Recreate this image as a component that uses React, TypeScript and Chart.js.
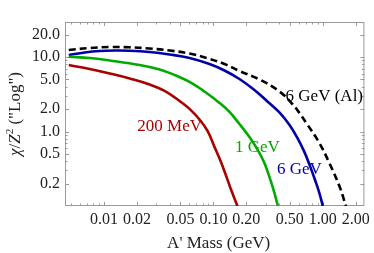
import React, { useEffect, useRef } from "react";
import { Chart, registerables } from "chart.js";

Chart.register(...registerables);

// A' mass (GeV) and chi/Z^2 values
const mass200MeV = [0.004764, 0.007404, 0.01127, 0.01716, 0.02612, 0.03579, 0.04906, 0.06053, 0.07468, 0.08835, 0.1023, 0.1161, 0.1317, 0.1463, 0.1659];
const chi200MeV = [7.81, 6.9, 6.01, 5.15, 4.28, 3.5, 2.57, 2.01, 1.45, 1.02, 0.622, 0.404, 0.246, 0.16, 0.1];

const mass1GeV = [0.004764, 0.007404, 0.01127, 0.02117, 0.03223, 0.04418, 0.06053, 0.0865, 0.1137, 0.1403, 0.173, 0.2135, 0.2526, 0.2926, 0.3319, 0.361, 0.3885];
const chi1GeV = [10.09, 9.7, 8.98, 7.81, 6.8, 5.74, 4.62, 3.29, 2.42, 1.83, 1.26, 0.846, 0.576, 0.379, 0.224, 0.15, 0.1];

const mass6GeV = [0.004764, 0.006667, 0.009137, 0.01252, 0.01716, 0.02612, 0.03977, 0.06053, 0.09213, 0.1263, 0.173, 0.2371, 0.3116, 0.401, 0.4947, 0.5854, 0.678, 0.7691, 0.8542, 0.9293, 1.0];
const chi6GeV = [10.64, 11.49, 12.03, 12.22, 12.15, 11.67, 10.8, 9.7, 8.06, 6.59, 5.07, 3.61, 2.53, 1.8, 1.23, 0.821, 0.533, 0.335, 0.218, 0.15, 0.1];

const mass6GeVAl = [0.004764, 0.007404, 0.01127, 0.01716, 0.02612, 0.03977, 0.06053, 0.0865, 0.1263, 0.173, 0.2634, 0.401, 0.5269, 0.6106, 0.7071, 0.9293, 1.146, 1.414, 1.628];
const chi6GeVAl = [12.41, 13.2, 13.61, 13.49, 13.0, 12.22, 11.14, 9.7, 8.06, 6.49, 4.99, 3.45, 2.34, 1.78, 1.3, 0.703, 0.379, 0.187, 0.1];

const xTickValues = [0.01, 0.02, 0.05, 0.1, 0.2, 0.5, 1, 2];
const yTickValues = [0.2, 0.5, 1, 2, 5, 10, 20];
const xMinorTicks = [0.005, 0.006, 0.007, 0.008, 0.009, 0.03, 0.04, 0.06, 0.07, 0.08, 0.09, 0.3, 0.4, 0.6, 0.7, 0.8, 0.9];
const yMinorTicks = [0.3, 0.4, 0.6, 0.7, 0.8, 0.9, 3, 4, 6, 7, 8, 9];

const curveLabels = ["200 MeV", "1 GeV", "6 GeV", "6 GeV (Al)"];
const curveLabelX = [0.0398, 0.2526, 0.6104, 1.0321];
const curveLabelY = [1.17, 0.612, 0.306, 2.94];
const curveColors = ["#aa0000", "#00aa00", "#0000aa", "#000000"];

const xTitle = "A' Mass (GeV)";

const toPoints = (xs: number[], ys: number[]) => xs.map((x, i) => ({ x, y: ys[i] }));

const SERIF = "'Liberation Serif', 'DejaVu Serif', serif";

export default function App() {
  const canvasRef = useRef<HTMLCanvasElement | null>(null);

  useEffect(() => {
    const canvas = canvasRef.current;
    if (!canvas) return;

    const framePlugin = {
      id: "framePlugin",
      beforeDatasetsDraw(chart: any) {
        const { ctx, chartArea: a, scales } = chart;
        const xs = scales.x;
        const ys = scales.y;
        ctx.save();
        ctx.strokeStyle = "#9a9a9a";
        ctx.lineWidth = 1;
        ctx.strokeRect(a.left + 0.5, a.top + 0.5, a.right - a.left - 1, a.bottom - a.top - 1);
        const drawX = (vals: number[], len: number) => {
          vals.forEach((v) => {
            const px = Math.round(xs.getPixelForValue(v)) + 0.5;
            ctx.beginPath();
            ctx.moveTo(px, a.bottom);
            ctx.lineTo(px, a.bottom - len);
            ctx.moveTo(px, a.top);
            ctx.lineTo(px, a.top + len);
            ctx.stroke();
          });
        };
        const drawY = (vals: number[], len: number) => {
          vals.forEach((v) => {
            const py = Math.round(ys.getPixelForValue(v)) + 0.5;
            ctx.beginPath();
            ctx.moveTo(a.left, py);
            ctx.lineTo(a.left + len, py);
            ctx.moveTo(a.right, py);
            ctx.lineTo(a.right - len, py);
            ctx.stroke();
          });
        };
        drawX(xTickValues, 4);
        drawX(xMinorTicks, 2.5);
        drawY(yTickValues, 4);
        drawY(yMinorTicks, 2.5);
        ctx.restore();
      },
      afterDatasetsDraw(chart: any) {
        const { ctx, scales } = chart;
        ctx.save();
        ctx.font = `17px ${SERIF}`;
        ctx.textAlign = "center";
        ctx.textBaseline = "middle";
        curveLabels.forEach((t, i) => {
          ctx.fillStyle = curveColors[i];
          ctx.fillText(t, scales.x.getPixelForValue(curveLabelX[i]), scales.y.getPixelForValue(curveLabelY[i]));
        });
        // x title
        ctx.fillStyle = "#222";
        ctx.fillText(xTitle, (chart.chartArea.left + chart.chartArea.right) / 2 + 4, 244);
        // y title with italic parts
        const segs = [
          { t: "\u03c7", f: `italic 17px ${SERIF}`, dy: 0 },
          { t: "/", f: `17px ${SERIF}`, dy: 0 },
          { t: "Z", f: `italic 17px ${SERIF}`, dy: 0 },
          { t: "2", f: `11px ${SERIF}`, dy: -6 },
          { t: " (\"Log\")", f: `17px ${SERIF}`, dy: 0 },
        ];
        let total = 0;
        segs.forEach((s) => {
          ctx.font = s.f;
          total += ctx.measureText(s.t).width;
        });
        ctx.translate(16, 114);
        ctx.rotate(-Math.PI / 2);
        ctx.textAlign = "left";
        let x = -total / 2;
        segs.forEach((s) => {
          ctx.font = s.f;
          ctx.fillText(s.t, x, s.dy);
          x += ctx.measureText(s.t).width;
        });
        ctx.restore();
      },
    };

    const mkSet = (xs: number[], ys: number[], color: string, dash: number[] = []) => ({
      data: toPoints(xs, ys),
      borderColor: color,
      backgroundColor: color,
      borderWidth: 2.6,
      borderDash: dash,
      pointRadius: 0,
      showLine: true,
      fill: false,
      tension: 0.4,
    });

    const chart = new Chart(canvas, {
      type: "scatter",
      data: {
        datasets: [
          mkSet(mass200MeV, chi200MeV, curveColors[0]),
          mkSet(mass1GeV, chi1GeV, curveColors[1]),
          mkSet(mass6GeV, chi6GeV, curveColors[2]),
          mkSet(mass6GeVAl, chi6GeVAl, curveColors[3], [7, 4]),
        ],
      },
      options: {
        animation: false,
        responsive: false,
        layout: { padding: { top: 22, right: 9, left: 0, bottom: 0 } },
        plugins: { legend: { display: false }, tooltip: { enabled: false } },
        scales: {
          x: {
            type: "logarithmic",
            min: 0.0044,
            max: 2.4,
            grid: { display: false, drawTicks: false },
            border: { display: false },
            afterBuildTicks: (s: any) => {
              s.ticks = xTickValues.map((value) => ({ value }));
            },
            afterFit: (s: any) => {
              s.height = 47;
            },
            ticks: {
              autoSkip: false,
              maxRotation: 0,
              minRotation: 0,
              padding: 4,
              color: "#222",
              font: { family: SERIF, size: 16 },
              callback: (v: any) => Number(v).toFixed(2),
            },
          },
          y: {
            type: "logarithmic",
            min: 0.1,
            max: 29.5,
            grid: { display: false, drawTicks: false },
            border: { display: false },
            afterBuildTicks: (s: any) => {
              s.ticks = yTickValues.map((value) => ({ value }));
            },
            afterFit: (s: any) => {
              s.width = 65;
            },
            ticks: {
              autoSkip: false,
              padding: 5,
              color: "#222",
              font: { family: SERIF, size: 16 },
              callback: (v: any) => Number(v).toFixed(1),
            },
          },
        },
      },
      plugins: [framePlugin],
    });

    return () => chart.destroy();
  }, []);

  return (
    <div style={{ position: "absolute", left: 0, top: 0, width: 374, height: 253, background: "#fff" }}>
      <canvas ref={canvasRef} width={374} height={253} />
    </div>
  );
}
